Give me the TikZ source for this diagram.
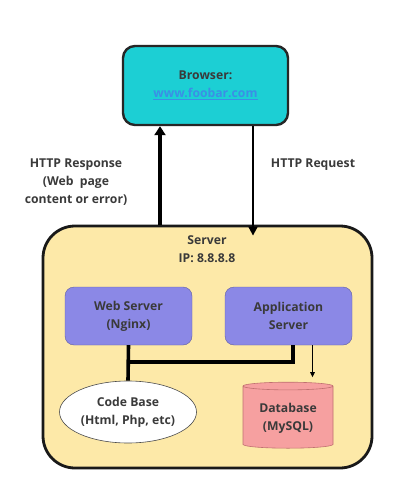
\documentclass[tikz,border=0pt]{standalone}
\usepackage{fontspec}
\setmainfont{Open Sans}
\usetikzlibrary{positioning,shapes.geometric,arrows.meta}
\definecolor{browserfill}{HTML}{1CCFD4}
\definecolor{serverfill}{HTML}{FDE9A8}
\definecolor{appfill}{HTML}{8B88E6}
\definecolor{dbfill}{HTML}{F6A0A0}
\definecolor{dbline}{HTML}{C07070}
\definecolor{inkgray}{HTML}{3A3A3A}
\definecolor{linkblue}{HTML}{3B8EE6}
\tikzset{
  txt/.style={font=\bfseries\fontsize{12.2}{18}\selectfont, text=inkgray, align=center},
  browserbox/.style={txt, draw=black!85, line width=2.4pt, fill=browserfill, rounded corners=12pt},
  serverbox/.style={draw=black!90, line width=2.8pt, fill=serverfill, rounded corners=32pt},
  appbox/.style={txt, draw=appfill!70!black, line width=0.4pt, fill=appfill, rounded corners=9pt},
  codebox/.style={txt, ellipse, draw=black!70, line width=0.6pt, fill=white},
  dbbox/.style={txt, cylinder, shape border rotate=90, aspect=0.12, draw=dbline, line width=0.6pt, fill=dbfill},
  heavy/.style={line width=3.6pt},
}
\begin{document}
\begin{tikzpicture}[x=1pt, y=-1pt, line cap=butt]
  \useasboundingbox[fill=white] (0,0) rectangle (404,489);

  % Browser
  \node[browserbox, minimum width=165, minimum height=79] (browser) at (205.5,85.5)
    {Browser:\\ \textcolor{linkblue}{\underline{www.foobar.com}}};

  % Server and its parts
  \node[serverbox, minimum width=329, minimum height=242] (server) at (207.5,347) {};
  \node[txt] (servertitle) at (207,249.5) {Server\\IP: 8.8.8.8};
  \node[appbox, minimum width=127, minimum height=58] (webserver) at (128.5,316) {Web Server\\(Nginx)};
  \node[appbox, minimum width=127, minimum height=58] (appserver) at (288.5,316) {Application\\Server};
  \node[codebox, minimum width=137, minimum height=62, inner sep=0pt] (codebase) at (128,412) {Code Base\\(Html, Php, etc)};
  \node[dbbox, minimum width=90, minimum height=66] (database) at (288,418) {Database\\(MySQL)};

  % HTTP traffic
  \draw[heavy, -{Triangle[length=9pt, width=11pt]}] (server.north -| 160,0) -- (browser.south -| 160,0);
  \draw[line width=2pt, -{Triangle[length=9pt, width=9pt]}] (browser.south -| 253,0) -- ([yshift=-11pt]server.north -| 253,0);
  \node[txt] (resplabel) at (76,182) {HTTP Response\\(Web\ \ page\\content or error)};
  \node[txt] (reqlabel) at (313,165) {HTTP Request};

  % Links inside the server
  \coordinate (join) at (webserver.south |- 0,362);
  \coordinate (appout) at ([xshift=4.5pt]appserver.south);
  \coordinate (dbin) at ([xshift=24pt]appserver.south);
  \draw[heavy] (webserver.south) -- (codebase.north);
  \draw[heavy, line join=miter] (join) -| (appout);
  \draw[line width=1pt, -{Triangle[length=5pt, width=4.5pt]}] (dbin) -- ++(0,32);
\end{tikzpicture}
\end{document}
